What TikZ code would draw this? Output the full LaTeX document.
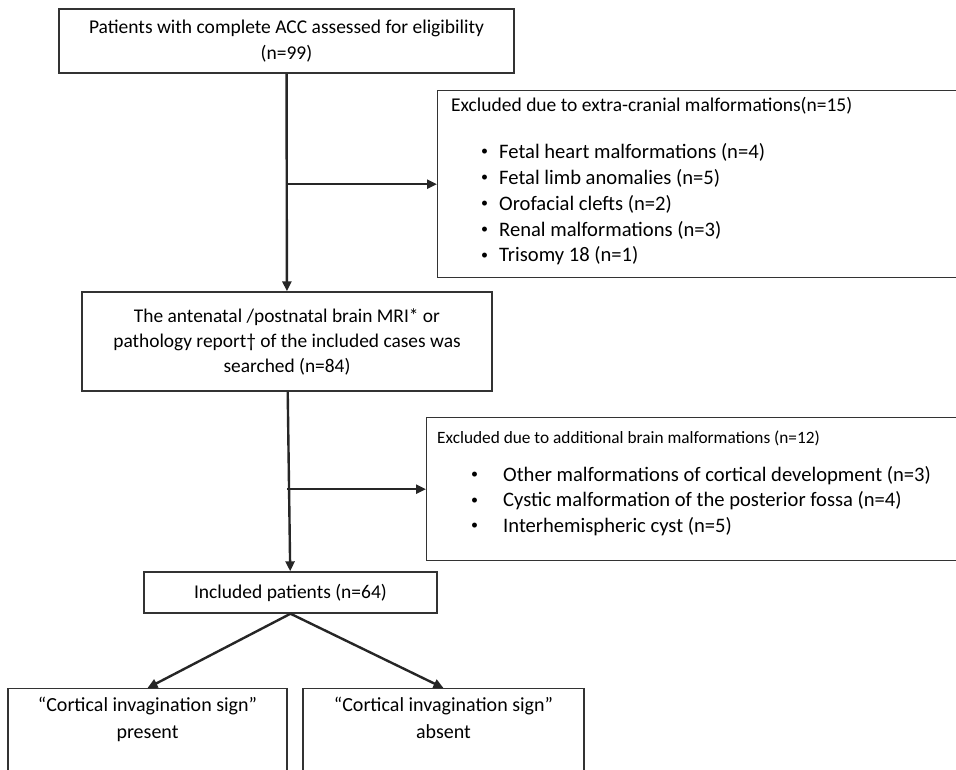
\documentclass[tikz,border=0pt]{standalone}
\usepackage{fontspec}
\setmainfont{Carlito}
\usetikzlibrary{arrows.meta,positioning}

\begin{document}
\begin{tikzpicture}[
    x=1pt, y=-1pt,
    box/.style={rectangle, draw=black!80, line width=1.4pt, inner sep=0pt, align=center, font=\fontsize{19.5}{26}\selectfont},
    exbox/.style={rectangle, draw=black!80, line width=1.4pt, inner sep=0pt, anchor=north west},
    extitle/.style={anchor=west, inner sep=0pt, font=\fontsize{19.5}{22}\selectfont},
    item/.style={anchor=west, inner sep=0pt, font=\fontsize{20.6}{22}\selectfont},
    dot/.style={anchor=west, inner sep=0pt, font=\fontsize{14}{16}\selectfont},
    arrow/.style={line width=2.4pt, draw=black!85, -{Triangle[length=10pt,width=9pt]}}
  ]
    \useasboundingbox (0,0) rectangle (956,769);
    \clip (0,0) rectangle (956,769);

    % Main boxes
    \node[box, minimum width=455, minimum height=64] (elig) at (286.5,41)
      {Patients with complete ACC assessed for eligibility\\(n=99)};
    \node[box, minimum width=410, minimum height=99, font=\fontsize{19.4}{25}\selectfont] (mri) at (287,341.5)
      {The antenatal /postnatal brain MRI* or\\pathology report† of the included cases was\\searched (n=84)};
    \node[box, minimum width=293, minimum height=41] (incl) at (290.5,592.5)
      {Included patients (n=64)};
    \node[box, minimum width=279, anchor=north, inner ysep=8pt, text depth=90pt, font=\fontsize{20}{27}\selectfont] (pres) at (147.5,688)
      {“Cortical invagination sign”\\present};
    \node[box, minimum width=281, anchor=north, inner ysep=8pt, text depth=90pt, font=\fontsize{20}{27}\selectfont] (abs) at (443.5,688)
      {“Cortical invagination sign”\\absent};

    % Exclusion boxes
    \node[exbox, minimum width=600, minimum height=187] (excl1) at (437,90) {};
    \node[extitle] (excl1t) at (451,106) {Excluded due to extra-cranial malformations(n=15)};
    \foreach \t [count=\i] in {Fetal heart malformations (n=4), Fetal limb anomalies (n=5),
        Orofacial clefts (n=2), Renal malformations (n=3), Trisomy 18 (n=1)} {
      \node[dot] at (481, 126+26*\i) {\textbullet};
      \node[item] at (499, 126+26*\i) {\t};
    }

    \node[exbox, minimum width=600, minimum height=143] (excl2) at (426,417) {};
    \node[extitle, font=\fontsize{17.3}{20}\selectfont] (excl2t) at (437,438) {Excluded due to additional brain malformations (n=12)};
    \foreach \t [count=\i] in {Other malformations of cortical development (n=3),
        Cystic malformation of the posterior fossa (n=4), Interhemispheric cyst (n=5)} {
      \node[dot] at (471, 450+25.5*\i) {\textbullet};
      \node[item] at (503, 450+25.5*\i) {\t};
    }

    % Arrows
    \draw[arrow] (elig) -- (mri);
    \draw[arrow] (excl1.west -| elig.south) -- (excl1.west);
    \draw[arrow] (mri) -- (incl);
    \draw[arrow] (excl2.west -| mri.south) -- (excl2.west);
    \draw[arrow] (incl.south) -- (pres.north);
    \draw[arrow] (incl.south) -- (abs.north);
  \end{tikzpicture}
\end{document}
